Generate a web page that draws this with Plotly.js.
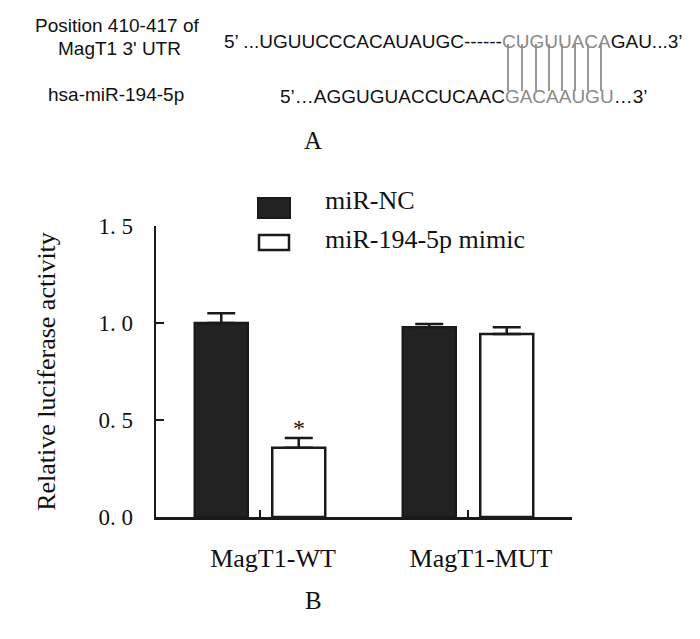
<!DOCTYPE html>
<html>
<head>
<meta charset="utf-8">
<script src="https://cdn.plot.ly/plotly-3.0.1.min.js"></script>
<style>html,body{margin:0;padding:0;background:#fff;}#chart{width:700px;height:639px;}</style>
</head>
<body>
<div id="chart"></div>
<script>
// ---- data ----
const categories = ["MagT1-WT", "MagT1-MUT"];
const seriesNames = ["miR-NC", "miR-194-5p mimic"];
const ncValues = [1.00, 0.978];
const ncErrors = [0.05, 0.017];
const mimicValues = [0.357, 0.943];
const mimicErrors = [0.05, 0.035];
const yTickVals = [0, 0.5, 1.0, 1.5];
const yTickText = ["0. 0", "0. 5", "1. 0", "1. 5"];
const yTitle = "Relative luciferase activity";
const utrLabel = ["Position 410-417 of", "MagT1 3' UTR"];
const mirLabel = "hsa-miR-194-5p";
const utrSeq = ["5\u2019 ...UGUUCCCACAUAUGC------", "CUGUUACA", "GAU...3\u2019"];
const mirSeq = ["5\u2019\u2026AGGUGUACCUCAAC", "GACAAUGU", "\u20263\u2019"];
const pairCount = 8;

// ---- layout helpers (pixel -> paper) ----
const L = 156, R = 572, T = 226, B = 517;
const px = x => (x - L) / (R - L);
const py = y => (B - y) / (B - T);
const ink = "#1a1a1a";
const gray = "#8a8a8a";
const serif = "Liberation Serif, Times New Roman, serif";
const sans = "Liberation Sans, Arial, sans-serif";

const zeros = a => a.map(() => 0);

const traces = [
  {
    type: "bar", name: seriesNames[0], x: categories, y: ncValues,
    marker: {color: "#222222", line: {color: ink, width: 2.5}},
    error_y: {type: "data", symmetric: false, array: ncErrors, arrayminus: zeros(ncErrors),
              color: ink, thickness: 2.5, width: 14},
    showlegend: false
  },
  {
    type: "bar", name: seriesNames[1], x: categories, y: mimicValues,
    marker: {color: "#ffffff", line: {color: ink, width: 2.5}},
    error_y: {type: "data", symmetric: false, array: mimicErrors, arrayminus: zeros(mimicErrors),
              color: ink, thickness: 2.5, width: 14},
    showlegend: false
  }
];

const annotations = [
  // panel A
  {xref: "paper", yref: "paper", x: px(117), y: py(25), text: utrLabel[0], showarrow: false,
   xanchor: "center", yanchor: "middle", font: {family: sans, size: 19, color: "#111"}},
  {xref: "paper", yref: "paper", x: px(119), y: py(49), text: utrLabel[1], showarrow: false,
   xanchor: "center", yanchor: "middle", font: {family: sans, size: 19, color: "#111"}},
  {xref: "paper", yref: "paper", x: px(116), y: py(94), text: mirLabel, showarrow: false,
   xanchor: "center", yanchor: "middle", font: {family: sans, size: 19, color: "#111"}},
  {xref: "paper", yref: "paper", x: px(222), y: py(41), showarrow: false,
   text: utrSeq[0] + '<span style="color:' + gray + '">' + utrSeq[1] + '</span>' + utrSeq[2],
   xanchor: "left", yanchor: "middle", font: {family: sans, size: 19, color: "#111"}},
  {xref: "paper", yref: "paper", x: px(278), y: py(96), showarrow: false,
   text: mirSeq[0] + '<span style="color:' + gray + '">' + mirSeq[1] + '</span>' + mirSeq[2],
   xanchor: "left", yanchor: "middle", font: {family: sans, size: 19, color: "#111"}},
  {xref: "paper", yref: "paper", x: px(313), y: py(140), text: "A", showarrow: false,
   xanchor: "center", yanchor: "middle", font: {family: serif, size: 25, color: "#111"}},
  // panel B
  {xref: "paper", yref: "paper", x: px(313), y: py(600), text: "B", showarrow: false,
   xanchor: "center", yanchor: "middle", font: {family: serif, size: 25, color: "#111"}},
  {xref: "paper", yref: "paper", x: px(323), y: py(200), text: seriesNames[0], showarrow: false,
   xanchor: "left", yanchor: "middle", font: {family: serif, size: 26, color: "#111"}},
  {xref: "paper", yref: "paper", x: px(323), y: py(239), text: seriesNames[1], showarrow: false,
   xanchor: "left", yanchor: "middle", font: {family: serif, size: 26, color: "#111"}},
  // significance marker
  {xref: "x", yref: "y", x: categories[0], xshift: 39, y: mimicValues[0] + mimicErrors[0],
   yshift: -5, text: "*", showarrow: false, xanchor: "center", yanchor: "bottom",
   font: {family: serif, size: 24, color: "#111"}}
];

const shapes = [
  {type: "rect", xref: "paper", yref: "paper", x0: px(258), x1: px(290), y0: py(198), y1: py(218),
   fillcolor: "#222222", line: {color: ink, width: 2}},
  {type: "rect", xref: "paper", yref: "paper", x0: px(259), x1: px(289), y0: py(235), y1: py(250),
   fillcolor: "#ffffff", line: {color: ink, width: 2.5}}
];
// base-pairing connector lines
const pairX = [508, 522, 536, 549, 562, 575, 588, 601];
for (let i = 0; i < pairCount; i++) {
  shapes.push({type: "line", xref: "paper", yref: "paper", x0: px(pairX[i]), x1: px(pairX[i]),
    y0: py(44), y1: py(91), line: {color: "#777", width: 1.5}});
}

const layout = {
  width: 700, height: 639,
  margin: {l: L, r: 700 - R, t: T, b: 639 - B, pad: 0},
  paper_bgcolor: "#fff", plot_bgcolor: "#fff",
  barmode: "group", bargap: 0.255, bargroupgap: 0.316,
  showlegend: false,
  font: {family: serif, color: "#111"},
  xaxis: {
    type: "category", range: [-0.5, 1.5], showline: true, linecolor: ink, linewidth: 2.5,
    ticks: "inside", ticklen: 7, tickwidth: 2, tickcolor: ink, showgrid: false, zeroline: false,
    tickfont: {family: serif, size: 26, color: "#111"}, ticklabelstandoff: 16, ticklabelshift: 13
  },
  yaxis: {
    range: [0, 1.5], showline: true, linecolor: ink, linewidth: 2.5,
    ticks: "inside", ticklen: 8, tickwidth: 2.5, tickcolor: ink, showgrid: false, zeroline: false,
    tickvals: yTickVals, ticktext: yTickText, tickfont: {family: serif, size: 23, color: "#111"},
    ticklabelstandoff: 16,
    title: {text: yTitle, font: {family: serif, size: 26, color: "#111"}, standoff: 36}
  },
  annotations: annotations,
  shapes: shapes
};

Plotly.newPlot("chart", traces, layout, {displayModeBar: false, staticPlot: true});
</script>
</body>
</html>
